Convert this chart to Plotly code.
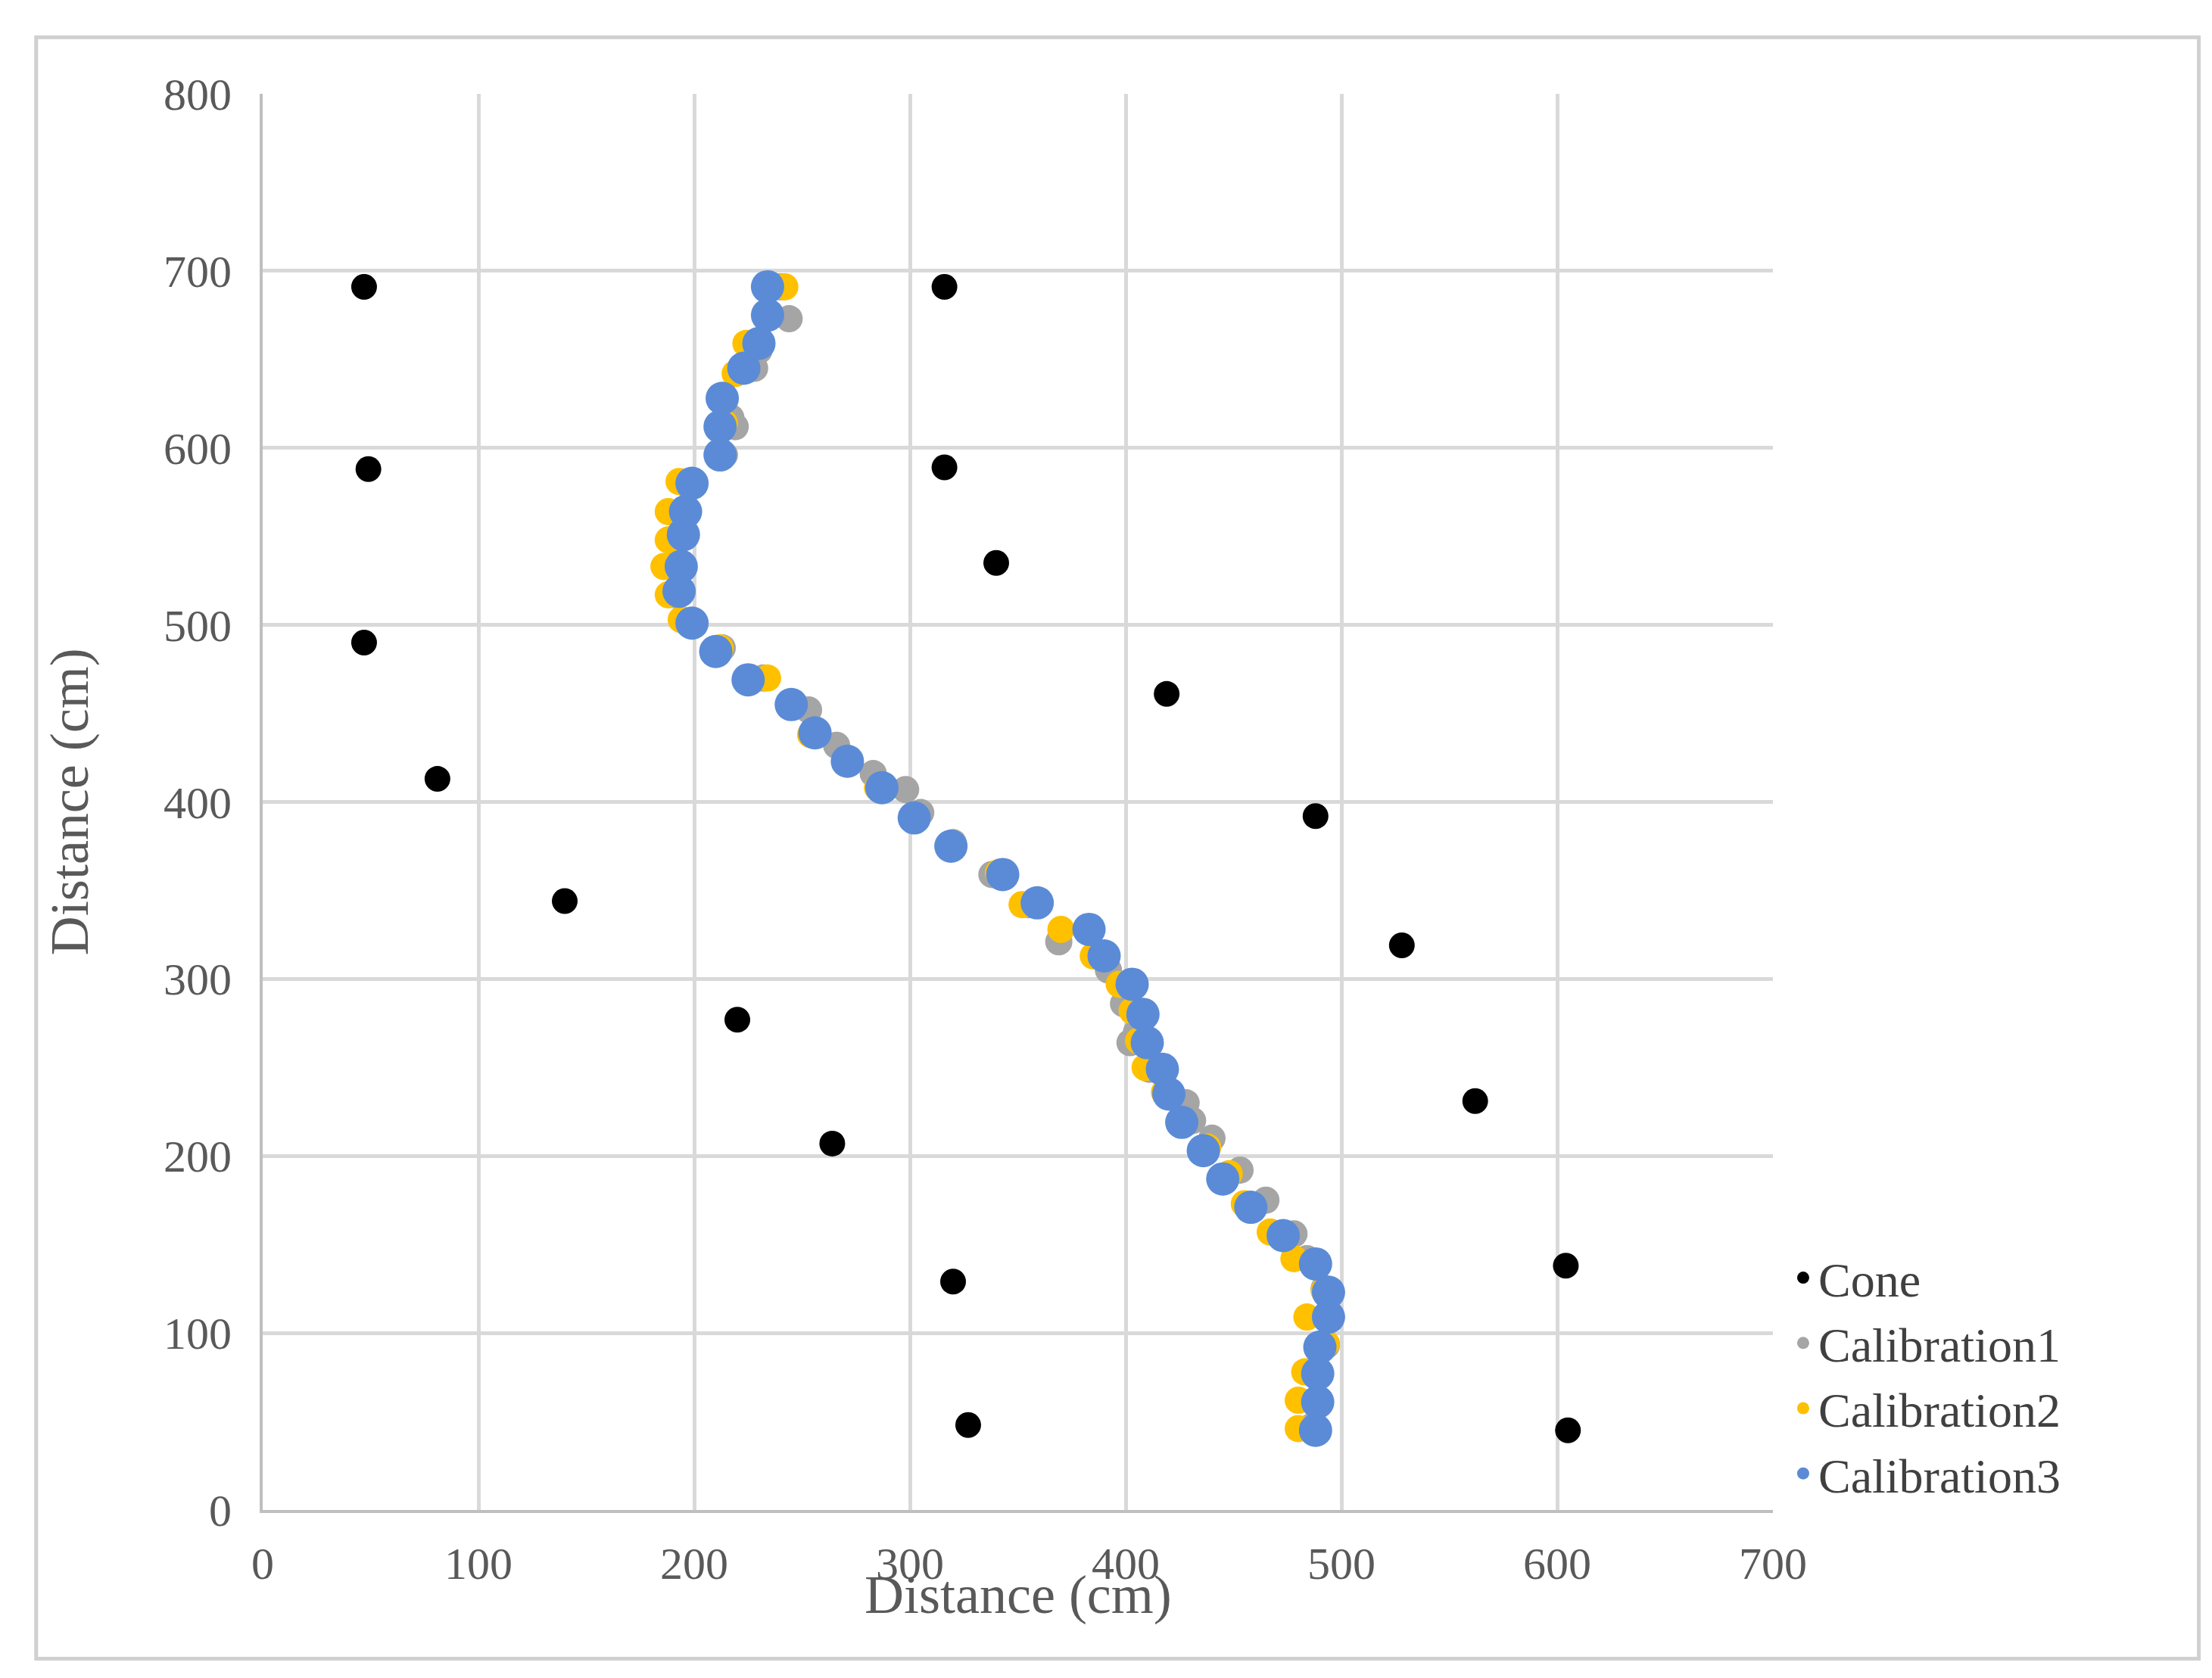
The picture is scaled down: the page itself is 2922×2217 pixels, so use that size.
import plotly.graph_objects as go

cone_x = [47, 316, 49, 316, 340, 47, 419, 81, 488, 140, 528, 220, 562, 264, 604, 320, 327, 605]
cone_y = [691, 691, 588, 589, 535, 490, 461, 413, 392, 344, 319, 277, 231, 207, 138, 129, 48, 45]

cal3_x = [234, 234, 230, 223, 213, 212, 212, 199, 196, 195, 194, 193, 199, 210, 225, 245, 256, 271, 287, 302, 319, 343, 359, 383, 390, 403, 408, 410, 417, 420, 426, 436, 445, 458, 473, 488, 494, 494, 490, 489, 489, 488]
cal3_y = [691, 675, 659, 645, 628, 612, 596, 580, 564, 551, 533, 519, 501, 485, 469, 455, 439, 423, 408, 391, 375, 359, 343, 328, 313, 297, 280, 264, 249, 235, 219, 203, 187, 171, 155, 139, 123, 109, 92, 77, 61, 45]

cal1_x = [240, 244, 230, 228, 217, 219, 214, 196, 192, 191, 190, 191, 198, 213, 232, 253, 266, 283, 298, 305, 320, 338, 355, 369, 392, 399, 405, 402, 411, 428, 431, 440, 453, 465, 478, 484, 492, 493, 493, 490, 488, 486]
cal1_y = [691, 673, 655, 645, 617, 612, 596, 580, 563, 548, 533, 517, 502, 487, 470, 452, 432, 416, 407, 394, 377, 359, 342, 321, 305, 286, 270, 264, 249, 230, 220, 210, 192, 175, 156, 142, 125, 109, 93, 78, 62, 47]

cal2_x = [242, 233, 224, 219, 212, 214, 211, 193, 188, 188, 186, 188, 194, 212, 234, 244, 254, 270, 285, 303, 320, 341, 352, 370, 385, 397, 403, 406, 409, 418, 425, 438, 448, 455, 467, 478, 492, 484, 493, 483, 480, 480]
cal2_y = [691, 674, 659, 642, 629, 614, 597, 581, 564, 548, 533, 517, 503, 487, 470, 454, 438, 422, 408, 391, 375, 360, 342, 328, 313, 297, 282, 265, 250, 236, 219, 205, 190, 173, 157, 142, 124, 109, 94, 78, 62, 46]

font = "Liberation Serif"
fig = go.Figure()
fig.add_trace(go.Scatter(x=cone_x, y=cone_y, mode="markers", name="Cone",
                         marker=dict(color="black", size=34)))
fig.add_trace(go.Scatter(x=cal1_x, y=cal1_y, mode="markers", name="Calibration1",
                         marker=dict(color="#a5a5a5", size=36)))
fig.add_trace(go.Scatter(x=cal2_x, y=cal2_y, mode="markers", name="Calibration2",
                         marker=dict(color="#ffc000", size=36)))
fig.add_trace(go.Scatter(x=cal3_x, y=cal3_y, mode="markers", name="Calibration3",
                         marker=dict(color="#5b8bd6", size=44)))

axis_common = dict(showgrid=True, gridcolor="#d9d9d9", gridwidth=5, zeroline=False,
                   showline=True, linecolor="#bfbfbf", linewidth=4, ticks="",
                   tickfont=dict(family=font, size=60, color="#595959"))
fig.update_xaxes(range=[0, 700], dtick=100, ticklabelstandoff=15, **axis_common)
fig.update_yaxes(range=[0, 800], dtick=100, ticklabelstandoff=25, **axis_common)

fig.update_layout(
    width=2922, height=2217,
    margin=dict(l=339, r=588, t=116, b=230),
    plot_bgcolor="white", paper_bgcolor="white",
    showlegend=True,
    legend=dict(x=1.01, y=0.0, xanchor="left", yanchor="bottom",
                font=dict(family=font, size=64, color="#404040"),
                itemsizing="trace", tracegroupgap=0),
    annotations=[
        dict(text="Distance (cm)", xref="paper", yref="paper", x=0.5, y=-0.06,
             xanchor="center", yanchor="middle", showarrow=False,
             font=dict(family=font, size=72, color="#595959")),
        dict(text="Distance (cm)", xref="paper", yref="paper", x=-0.128, y=0.5,
             textangle=-90, xanchor="center", yanchor="middle", showarrow=False,
             font=dict(family=font, size=72, color="#595959")),
    ],
    shapes=[dict(type="rect", xref="paper", yref="paper",
                 x0=-0.15, x1=1.282, y0=-0.105, y1=1.04,
                 line=dict(color="#d0d0d0", width=5))],
)
fig.write_html("out.html")
